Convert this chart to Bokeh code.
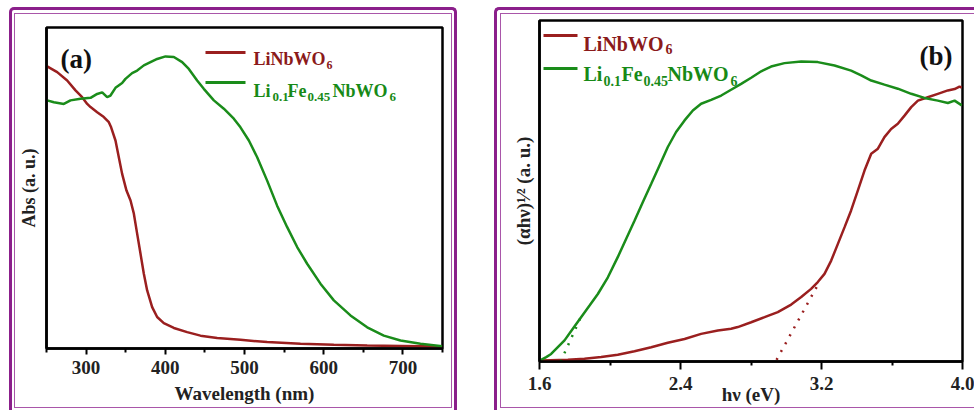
from bokeh.plotting import figure
from bokeh.layouts import row
from bokeh.models import (Range1d, FixedTicker, PrintfTickFormatter, Label, BoxAnnotation,
                          InlineStyleSheet)
from bokeh.embed import file_html
from bokeh.resources import INLINE

# ---------------- data: panel (a) ----------------
wl_red = [250.8, 263.5, 276.1, 286.6, 295.0, 301.4, 305.6, 314.0, 322.4, 328.7, 331.6, 337.1,
          341.3, 345.5, 351.0, 356.1, 360.3, 364.5, 368.7, 372.9, 377.1, 383.4, 389.7, 398.1,
          410.8, 427.6, 444.4, 465.5, 494.9, 528.6, 570.7, 612.8, 654.9, 697.0, 749.6]
abs_red = [0.879, 0.861, 0.835, 0.804, 0.783, 0.762, 0.752, 0.736, 0.721, 0.705, 0.689, 0.648,
           0.596, 0.544, 0.492, 0.461, 0.420, 0.357, 0.295, 0.233, 0.181, 0.129, 0.098, 0.079,
           0.064, 0.051, 0.040, 0.033, 0.027, 0.020, 0.015, 0.0115, 0.009, 0.008, 0.006]
wl_green = [250.8, 259.3, 271.9, 280.3, 292.9, 305.6, 314.0, 320.3, 326.6, 330.8, 337.1, 345.5,
            349.7, 358.1, 364.5, 372.9, 381.3, 389.7, 400.3, 410.8, 421.3, 429.7, 440.2, 448.6,
            461.3, 473.9, 486.5, 494.9, 505.5, 516.0, 528.6, 541.2, 553.9, 566.5, 579.1, 595.9,
            612.8, 633.8, 654.9, 675.9, 697.0, 722.2, 749.6]
abs_green = [0.773, 0.767, 0.762, 0.773, 0.778, 0.781, 0.793, 0.798, 0.783, 0.788, 0.812, 0.827,
             0.840, 0.858, 0.866, 0.882, 0.892, 0.902, 0.910, 0.908, 0.892, 0.871, 0.835, 0.809,
             0.773, 0.747, 0.716, 0.689, 0.648, 0.596, 0.523, 0.445, 0.378, 0.316, 0.264, 0.202,
             0.150, 0.103, 0.066, 0.040, 0.025, 0.015, 0.007]
a_ticks = [300, 400, 500, 600, 700]
a_minor = [250, 350, 450, 550, 650, 750]
a_xlabel = "Wavelength (nm)"
a_ylabel = "Abs (a. u.)"

# ---------------- data: panel (b) ----------------
e_red = [1.609, 1.761, 1.855, 1.950, 2.044, 2.139, 2.234, 2.328, 2.423, 2.517, 2.612, 2.687,
         2.725, 2.801, 2.877, 2.952, 3.028, 3.085, 3.141, 3.179, 3.217, 3.255, 3.293, 3.331,
         3.368, 3.406, 3.444, 3.482, 3.520, 3.557, 3.595, 3.633, 3.671, 3.709, 3.747, 3.803,
         3.860, 3.917, 3.955, 3.983, 3.996]
t_red = [0.003, 0.005, 0.008, 0.013, 0.020, 0.030, 0.042, 0.055, 0.066, 0.081, 0.091, 0.096,
         0.101, 0.115, 0.130, 0.145, 0.167, 0.189, 0.213, 0.233, 0.257, 0.296, 0.345, 0.394,
         0.443, 0.501, 0.560, 0.609, 0.624, 0.658, 0.682, 0.697, 0.721, 0.746, 0.765, 0.775,
         0.785, 0.795, 0.799, 0.806, 0.803]
e_green = [1.609, 1.638, 1.666, 1.704, 1.742, 1.789, 1.836, 1.884, 1.931, 1.988, 2.044, 2.092,
           2.139, 2.186, 2.234, 2.281, 2.328, 2.375, 2.423, 2.470, 2.517, 2.574, 2.631, 2.687,
           2.744, 2.801, 2.858, 2.914, 2.990, 3.085, 3.179, 3.274, 3.368, 3.425, 3.482, 3.557,
           3.633, 3.709, 3.784, 3.860, 3.917, 3.955, 3.996]
t_green = [0.005, 0.013, 0.022, 0.042, 0.062, 0.096, 0.130, 0.164, 0.198, 0.247, 0.306, 0.360,
           0.413, 0.467, 0.521, 0.575, 0.629, 0.673, 0.707, 0.736, 0.756, 0.767, 0.780, 0.797,
           0.814, 0.832, 0.851, 0.865, 0.875, 0.880, 0.878, 0.868, 0.853, 0.839, 0.824, 0.812,
           0.800, 0.785, 0.773, 0.765, 0.758, 0.765, 0.751]
fit_red_e = [2.945, 3.19]
fit_red_t = [0.005, 0.235]
fit_green_e = [1.72, 1.83]
fit_green_t = [0.0, 0.125]
b_ticks = [1.6, 2.4, 3.2, 4.0]
b_minor = [2.0, 2.8, 3.6]
b_xlabel = "h\u03bd (eV)"
b_ylabel = "(\u03b1h\u03bd)\u00b9\u2044\u00b2 (a. u.)"

RED = "#9a1f1f"
GREEN = "#1a8c1a"
RED_T = "#8b1a1a"
GREEN_T = "#178a17"
FONT = "Liberation Serif"


def border_css(outer_left, outer_width, inner_left, inner_width, right_open):
    r_out = "border-right: none;" if right_open else ""
    r_in = "border-right: none;" if right_open else ""
    return f"""
:host {{ position: relative; }}
:host::before {{ content: ""; position: absolute; left: {outer_left}px; top: 7px;
  width: {outer_width}px; height: 403px; box-sizing: border-box;
  border: 3px solid #8b1f8b; border-bottom: none; {r_out}
  border-radius: 5px 5px 0 0; pointer-events: none; z-index: 10; }}
:host::after {{ content: ""; position: absolute; left: {inner_left}px; top: 13px;
  width: {inner_width}px; height: 395px; box-sizing: border-box;
  border: 1px solid #a956a9; {r_in} pointer-events: none; z-index: 10; }}
"""


def base_fig(w, xr, yr, mb, css):
    p = figure(width=w, height=410, x_range=xr, y_range=yr, output_backend="svg",
               toolbar_location=None, min_border_left=mb[0], min_border_right=mb[1],
               min_border_top=mb[2], min_border_bottom=mb[3],
               stylesheets=[InlineStyleSheet(css=css)])
    p.frame_align = False
    p.grid.visible = False
    p.outline_line_color = "black"
    p.outline_line_width = 2.5
    p.background_fill_color = "white"
    p.border_fill_color = "white"
    for ax in (p.xaxis[0], p.yaxis[0]):
        ax.axis_line_width = 2.5
        ax.major_tick_line_width = 2
        ax.minor_tick_line_width = 2
        ax.major_tick_in = 0
        ax.minor_tick_in = 0
        ax.major_label_text_font = FONT
        ax.major_label_text_font_style = "bold"
        ax.major_label_text_font_size = "19px"
        ax.major_label_text_color = "#222222"
        ax.axis_label_text_font = FONT
        ax.axis_label_text_font_style = "bold"
        ax.axis_label_text_color = "#222222"
    ya = p.yaxis[0]
    ya.ticker = FixedTicker(ticks=[])
    ya.major_label_text_font_size = "0px"
    ya.major_label_standoff = 0
    return p


def lab(p, x, y, text, size, color="#222222", style="bold"):
    p.add_layout(Label(x=x, y=y, x_units="canvas", y_units="canvas", text=text,
                       text_font=FONT, text_font_size=size, text_font_style=style,
                       text_color=color, text_align="left", text_baseline="alphabetic"))


def bar(p, l, r, y, color):
    p.add_layout(BoxAnnotation(left=l, right=r, top=y - 1.5, bottom=y + 1.5,
                               left_units="canvas", right_units="canvas",
                               top_units="canvas", bottom_units="canvas",
                               fill_color=color, fill_alpha=1, line_alpha=0))


# ---------------- panel (a) ----------------
pa = base_fig(484, Range1d(250, 750), Range1d(0, 1), (46, 42, 27, 62),
              border_css(9, 448, 14, 438, False))
pa.xaxis.ticker = FixedTicker(ticks=a_ticks, minor_ticks=a_minor)
pa.xaxis.major_tick_out = 6
pa.xaxis.minor_tick_out = 4
pa.xaxis.major_label_standoff = 6
pa.xaxis.axis_label = a_xlabel
pa.xaxis.axis_label_text_font_size = "19px"
pa.xaxis.axis_label_standoff = 6
pa.yaxis.axis_label = a_ylabel
pa.yaxis.axis_label_text_font_size = "18px"
pa.yaxis.axis_label_standoff = 8
pa.line(wl_red, abs_red, line_color=RED, line_width=2.5)
pa.line(wl_green, abs_green, line_color=GREEN, line_width=2.5)
lab(pa, 60, 58, "(a)", "27px", color="#111111")
bar(pa, 205, 245, 52, RED)
bar(pa, 205, 245, 82, GREEN)
lab(pa, 253, 58, "LiNbWO", "18px", color=RED_T)
lab(pa, 326, 64, "6", "12px", color=RED_T)
lab(pa, 253, 90, "Li", "18px", color=GREEN_T)
lab(pa, 272, 96, "0.1", "13px", color=GREEN_T)
lab(pa, 287, 90, "Fe", "18px", color=GREEN_T)
lab(pa, 307, 96, "0.45", "13px", color=GREEN_T)
lab(pa, 332, 90, "NbWO", "18px", color=GREEN_T)
lab(pa, 389, 96, "6", "13px", color=GREEN_T)

# ---------------- panel (b) ----------------
pb = base_fig(490, Range1d(1.6, 4.0), Range1d(0, 1), (55, 12, 20, 49),
              border_css(10, 490, 16, 480, True))
pb.xaxis.ticker = FixedTicker(ticks=b_ticks, minor_ticks=b_minor)
pb.xaxis.formatter = PrintfTickFormatter(format="%.1f")
pb.xaxis.major_tick_out = 8
pb.xaxis.minor_tick_out = 4
pb.xaxis.major_label_standoff = 7
pb.xaxis.axis_label = b_xlabel
pb.xaxis.axis_label_text_font_size = "19px"
pb.xaxis.axis_label_standoff = -9
pb.yaxis.axis_label = b_ylabel
pb.yaxis.axis_label_text_font_size = "19px"
pb.yaxis.axis_label_standoff = 6
pb.line(e_red, t_red, line_color=RED, line_width=2.5)
pb.line(e_green, t_green, line_color=GREEN, line_width=2.5)
pb.line(fit_red_e, fit_red_t, line_color=RED, line_width=2.5, line_dash="2 7")
pb.line(fit_green_e, fit_green_t, line_color=GREEN, line_width=2.5, line_dash="2 7")
lab(pb, 435, 55, "(b)", "27px", color="#111111")
bar(pb, 59, 93, 35, RED)
bar(pb, 59, 93, 68, GREEN)
lab(pb, 99, 43, "LiNbWO", "20px", color=RED_T)
lab(pb, 181, 48, "6", "14px", color=RED_T)
lab(pb, 99, 73, "Li", "20px", color=GREEN_T)
lab(pb, 119, 80, "0.1", "14px", color=GREEN_T)
lab(pb, 137, 73, "Fe", "20px", color=GREEN_T)
lab(pb, 159, 80, "0.45", "14px", color=GREEN_T)
lab(pb, 183, 73, "NbWO", "20px", color=GREEN_T)
lab(pb, 246, 80, "6", "14px", color=GREEN_T)

layout = row(pa, pb, spacing=0)
open("out.html", "w").write(file_html(layout, INLINE))
